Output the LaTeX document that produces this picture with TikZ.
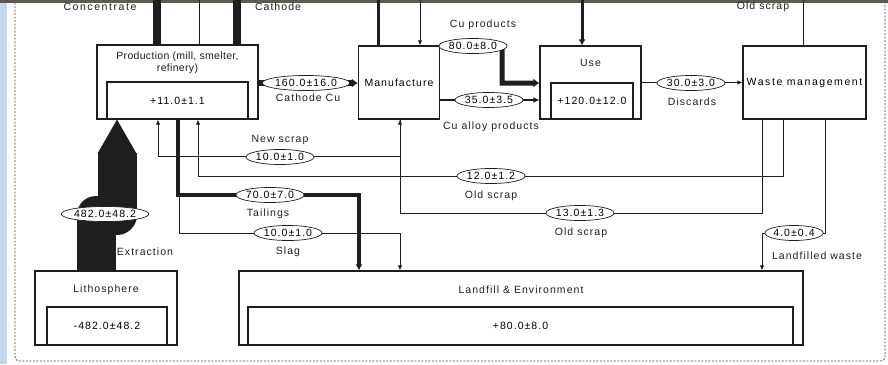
\documentclass[tikz,border=0pt]{standalone}
\usepackage{fontspec}
\setmainfont{Liberation Sans}[LetterSpace=10]
\usetikzlibrary{shapes.geometric,arrows.meta}
\definecolor{winblue}{RGB}{200,214,234}
\definecolor{winbar}{RGB}{95,90,82}
\definecolor{ink}{RGB}{30,30,30}
\begin{document}
\begin{tikzpicture}[x=1pt,y=-1pt,
  font=\fontsize{10.5}{12.5}\selectfont,
  box/.style={draw=ink, line width=1.2pt, inner sep=0pt},
  val/.style={ellipse, draw=ink, fill=white, line width=0.7pt, inner xsep=0pt, inner ysep=1.6pt},
  flow/.style={draw=ink, line width=0.9pt, line join=miter},
  tip/.style={-{Latex[length=5pt,width=4.5pt]}},
  bigtip/.style={-{Latex[length=6pt,width=9pt]}},
  lbl/.style={inner sep=0pt, text=ink}]
\useasboundingbox (0,0) rectangle (888,364);
\fill[winblue] (0,0) rectangle (7,364);
\fill[winbar] (0,0) rectangle (888,2.5);
% frame
\draw[ink!80, line width=0.8pt, dash pattern=on 2pt off 1.5pt, rounded corners=4pt]
  (15,2.5) -- (15,361) -- (885,361) -- (885,2.5);

% boxes
\node[box, minimum width=161pt, minimum height=74pt] (prod) at (177.5,82) {};
\node[lbl, align=center, font=\fontsize{10.5}{12.5}\selectfont\addfontfeatures{LetterSpace=3}] (prodt) at (177.5,63) {Production (mill, smelter,\\refinery)};
\node[box, minimum width=141pt, minimum height=37pt] (prodin) at (177.5,100.5) {+11.0±1.1};
\node[box, minimum width=81pt, minimum height=73pt] (manu) at (399,82.5) {Manufacture};
\node[box, minimum width=101pt, minimum height=73pt] (use) at (590.5,82.5) {};
\node[lbl] (uset) at (590.5,63) {Use};
\node[box, minimum width=82pt, minimum height=36pt] (usein) at (592,101) {+120.0±12.0};
\node[box, minimum width=123pt, minimum height=73pt, font=\fontsize{10.5}{12.5}\selectfont\addfontfeatures{LetterSpace=15}] (waste) at (804.5,82.5) {Waste management};
\node[box, minimum width=142pt, minimum height=74pt] (litho) at (106,308) {};
\node[lbl] (lithot) at (106,290) {Lithosphere};
\node[box, minimum width=120pt, minimum height=38pt] (lithoin) at (107,326) {-482.0±48.2};
\node[box, minimum width=564pt, minimum height=74pt] (land) at (521,308) {};
\node[lbl] (landt) at (521,290) {Landfill \& Environment};
\node[box, minimum width=545pt, minimum height=38pt] (landin) at (520.5,326) {+80.0±8.0};

% top connectors (free ends at the cut edge)
\coordinate (t1) at (157,0);
\coordinate (t2) at (199,0);
\coordinate (t3) at (237,0);
\coordinate (t4) at (378,0);
\coordinate (t5) at (420,0);
\coordinate (t6) at (582,0);
\coordinate (t7) at (803,0);
\draw[ink, line width=8pt] (t1) -- (prod.north -| t1);
\draw[flow] (t2) -- (prod.north -| t2);
\draw[ink, line width=8pt] (t3) -- (prod.north -| t3);
\draw[ink, line width=3pt] (t4) -- (manu.north -| t4);
\draw[flow, tip] (t5) -- (manu.north -| t5);
\draw[ink, line width=3pt, -{Latex[length=6pt,width=7pt]}] (t6) -- (use.north -| t6);
\draw[flow] (t7) -- (waste.north -| t7);
\node[lbl, font=\fontsize{10.5}{12.5}\selectfont\addfontfeatures{LetterSpace=15}] (lconc) at (100,7) {Concentrate};
\node[lbl] (lcath) at (278,7) {Cathode};
\node[lbl] (lold0) at (763,7) {Old scrap};

% extraction
\draw[ink, line width=39pt, line join=round] (litho.north -| 96,0) -- (96,215) -- (117,215) -- (117,153);
\fill[ink] (97.5,153.5) -- (prod.south -| 117,0) -- (136.5,153.5) -- cycle;

% flows
\draw[ink, line width=6pt, bigtip] (prod.east |- 0,83) -- (manu.west |- 0,83);
\draw[ink, line width=5pt, line join=miter, bigtip] (manu.north east) -- (502,46) -- (502,83) -- (use.west |- 0,83);
\draw[ink, line width=2.5pt, -{Latex[length=6pt,width=6pt]}] (manu.east |- 0,100) -- (use.west |- 0,100);
\draw[flow, tip] (use.east) -- (waste.west);
\draw[flow, tip] (manu.south -| 400,0) -- (400,156) -- (158,156) -- (prod.south -| 158,0);
\draw[flow, tip] (waste.south -| 783,0) -- (783,176) -- (198,176) -- (prod.south -| 198,0);
\draw[flow, tip] (waste.south -| 762,0) -- (762,213) -- (400,213) -- (manu.south -| 400,0);
\draw[flow, tip] (waste.south -| 825,0) -- (825,233) -- (762,233) -- (land.north -| 762,0);
\draw[flow, tip] (prod.south -| 179,0) -- (179,233) -- (400,233) -- (land.north -| 400,0);
\draw[ink, line width=4pt, line join=miter, -{Latex[length=6pt,width=7pt]}] (prod.south -| 178,0) -- (178,195) -- (359,195) -- (land.north -| 359,0);

% values
\node[val] (v160) at (306,83) {160.0±16.0};
\node[val] (v80) at (473,46) {80.0±8.0};
\node[val] (v35) at (489,100) {35.0±3.5};
\node[val] (v30) at (691,83) {30.0±3.0};
\node[val] (v10n) at (280,157) {10.0±1.0};
\node[val] (v12) at (491,176) {12.0±1.2};
\node[val] (v13) at (580,213) {13.0±1.3};
\node[val] (v4) at (794,233) {4.0±0.4};
\node[val] (v70) at (270,195) {70.0±7.0};
\node[val] (v10s) at (288,233) {10.0±1.0};
\node[val] (v482) at (105,214) {482.0±48.2};

% labels
\node[lbl] at (308,98) {Cathode Cu};
\node[lbl] at (483,25) {Cu products};
\node[lbl] at (491,127) {Cu alloy products};
\node[lbl] at (692,102) {Discards};
\node[lbl] at (280,140) {New scrap};
\node[lbl] at (491,196) {Old scrap};
\node[lbl] at (581,233) {Old scrap};
\node[lbl] at (817,256) {Landfilled waste};
\node[lbl] at (268,214) {Tailings};
\node[lbl] at (288,252) {Slag};
\node[lbl] at (145,252) {Extraction};
\end{tikzpicture}
\end{document}
